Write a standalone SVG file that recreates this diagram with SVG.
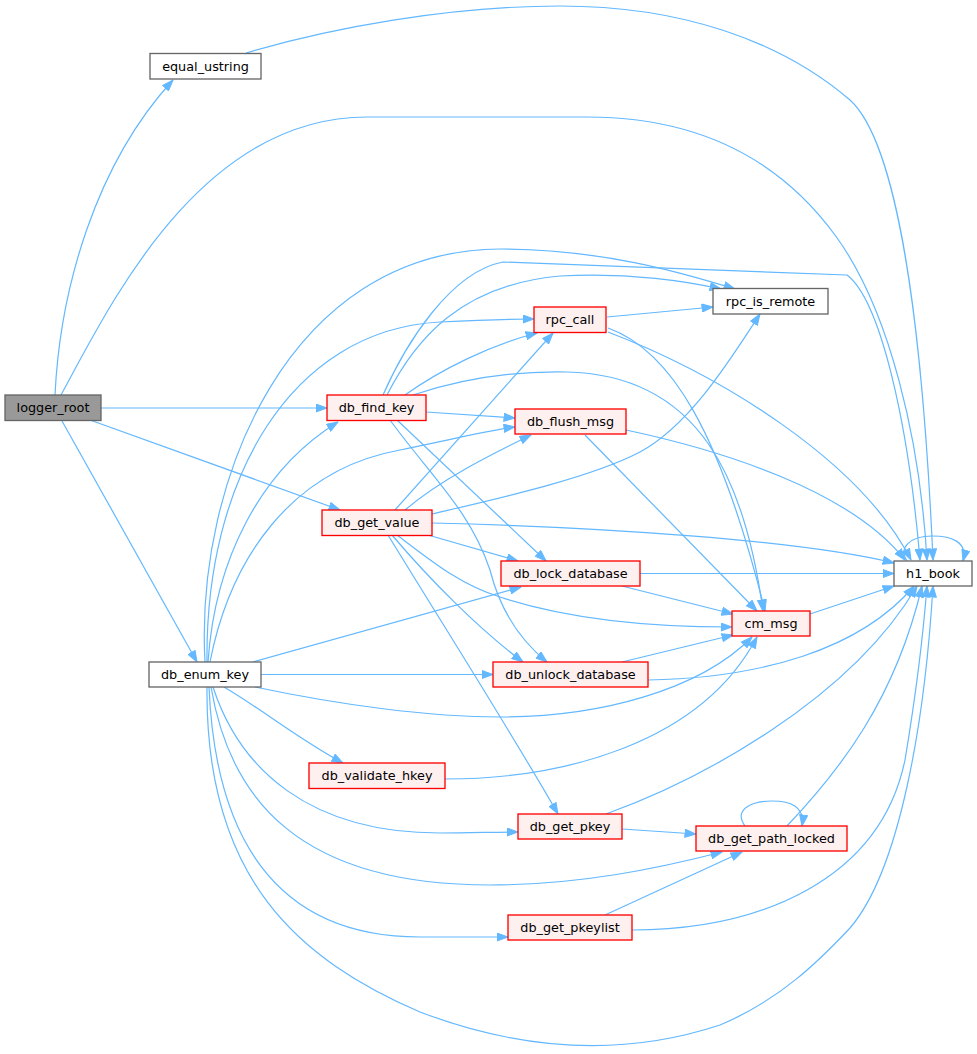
<svg xmlns="http://www.w3.org/2000/svg" width="977" height="1054" viewBox="0 0 977 1054">
<style>
.e{fill:none;stroke:#63b8ff;stroke-width:1.2;marker-end:url(#ah)}
.n rect{stroke-width:1.33}
.r rect{fill:#fff0f0;stroke:#ff0000}
.w rect{fill:#ffffff;stroke:#666666}
.g rect{fill:#999999;stroke:#666666}
text{font-family:"DejaVu Sans","Liberation Sans",sans-serif;font-size:12.8px;fill:#000;text-anchor:middle}
</style>
<defs>
<marker id="ah" markerUnits="userSpaceOnUse" markerWidth="12" markerHeight="9" viewBox="0 0 12 9" refX="11.5" refY="4.5" orient="auto">
<path d="M0.5,0.5 L11.5,4.5 L0.5,8.5 z" fill="#63b8ff" stroke="#63b8ff" stroke-width="1"/>
</marker>
</defs>
<rect width="977" height="1054" fill="#ffffff"/>
<g id="connectors">
<path class="e" d="M55,395 C60,290 95,165 173,80"/>
<path class="e" d="M61,395 C110,305 200,117 367,117 L587,117 C700,117 780,160 835,235 C890,310 920,440 927,560"/>
<path class="e" d="M246,53 C330,28 450,6 560,6 C680,6 780,40 850,100 C905,150 925,380 933,560"/>
<path class="e" d="M101,408 L327,408"/>
<path class="e" d="M90,420 L340,510"/>
<path class="e" d="M62,421 L197,662"/>
<path class="e" d="M383,395 C405,345 450,272 503,262 L847,275 C880,300 908,420 920,560"/>
<path class="e" d="M387,395 C415,340 460,285 560,276 C630,272 690,282 721,289"/>
<path class="e" d="M397,420 L546,561"/>
<path class="e" d="M390,420 C430,475 470,510 490,570 C500,610 520,640 547,662"/>
<path class="e" d="M405,395 C440,370 490,345 537,333"/>
<path class="e" d="M413,395 C470,376 520,371 567,372 C700,375 745,480 763,611"/>
<path class="e" d="M426,412 L515,418"/>
<path class="e" d="M205,662 C195,480 290,250 500,249 C600,249 680,272 735,289"/>
<path class="e" d="M207,662 C205,480 290,330 440,322 C480,320 510,319 534,319"/>
<path class="e" d="M208,662 C215,560 260,470 338,422"/>
<path class="e" d="M210,662 C230,560 290,470 400,450 C450,440 490,430 515,427"/>
<path class="e" d="M253,662 L521,587"/>
<path class="e" d="M261,674.5 L493,674.5"/>
<path class="e" d="M255,687 C340,705 430,717 500,717 C600,717 700,690 752,637"/>
<path class="e" d="M224,687 C260,708 300,740 343,763"/>
<path class="e" d="M213,687 C240,770 310,833 440,833 C470,833 495,832 518,832"/>
<path class="e" d="M211,687 C230,800 300,885 490,885 C580,885 660,868 722,852"/>
<path class="e" d="M209,687 C215,830 270,937 420,937 L508,937"/>
<path class="e" d="M207,687 C205,880 300,960 420,1012 C520,1050 620,1058 720,1025 C780,1000 820,960 850,928 C900,870 925,720 933,586"/>
<path class="e" d="M395,510 L553,333"/>
<path class="e" d="M405,510 C440,480 490,455 531,435"/>
<path class="e" d="M432,514 C500,498 590,478 640,452 C690,425 730,360 760,314"/>
<path class="e" d="M432,523 C600,527 800,540 894,563"/>
<path class="e" d="M428,535 L518,561"/>
<path class="e" d="M397,535 C430,560 460,585 500,597 C570,620 650,627 732,627"/>
<path class="e" d="M392,535 C430,580 480,630 523,662"/>
<path class="e" d="M388,535 C440,620 510,730 558,814"/>
<path class="e" d="M607,317 L713,307"/>
<path class="e" d="M608,328 C670,350 720,430 765,611"/>
<path class="e" d="M608,332 C720,375 860,460 911,560"/>
<path class="e" d="M626,430 C720,450 850,490 905,560"/>
<path class="e" d="M585,435 L757,611"/>
<path class="e" d="M640,573.5 L894,573.5"/>
<path class="e" d="M622,586 L733,614"/>
<path class="e" d="M622,662 L733,635"/>
<path class="e" d="M648,680 C760,678 860,650 914,586"/>
<path class="e" d="M810,614 L894,586"/>
<path class="e" d="M445,779 C560,779 700,745 757,637"/>
<path class="e" d="M606,814 C700,780 850,700 917,586"/>
<path class="e" d="M622,829 L696,834"/>
<path class="e" d="M745,826 C732,808 755,801 772,801 C790,801 805,806 802,826"/>
<path class="e" d="M787,826 C840,770 895,700 922,586"/>
<path class="e" d="M605,915 L742,852"/>
<path class="e" d="M632,930 C760,930 880,880 905,760 C915,700 922,650 927,586"/>
<path class="e" d="M907,561 C898,548 910,536 932,536 C952,536 968,542 963,561"/>
</g>
<g id="node_logger_root" class="n g"><rect x="5" y="395" width="96" height="25.5"/><text x="53" y="412">logger_root</text></g>
<g id="node_equal_ustring" class="n w"><rect x="150" y="53.5" width="111" height="25.5"/><text x="205.5" y="71">equal_ustring</text></g>
<g id="node_db_find_key" class="n r"><rect x="327" y="395" width="99" height="25.5"/><text x="376.5" y="412">db_find_key</text></g>
<g id="node_db_get_value" class="n r"><rect x="322" y="510" width="110" height="25.5"/><text x="377" y="527">db_get_value</text></g>
<g id="node_db_enum_key" class="n w"><rect x="149" y="662" width="112" height="25"/><text x="205" y="679">db_enum_key</text></g>
<g id="node_rpc_call" class="n r"><rect x="534" y="307" width="72" height="25.5"/><text x="570" y="324">rpc_call</text></g>
<g id="node_rpc_is_remote" class="n w"><rect x="713" y="288.5" width="115" height="25.5"/><text x="770.5" y="305.5">rpc_is_remote</text></g>
<g id="node_db_flush_msg" class="n r"><rect x="515" y="409" width="111" height="25"/><text x="570.5" y="426">db_flush_msg</text></g>
<g id="node_db_lock_database" class="n r"><rect x="501" y="561" width="139" height="25"/><text x="570.5" y="578">db_lock_database</text></g>
<g id="node_h1_book" class="n w"><rect x="894" y="561" width="78" height="25"/><text x="933" y="578">h1_book</text></g>
<g id="node_cm_msg" class="n r"><rect x="732" y="611" width="78" height="25"/><text x="771" y="628">cm_msg</text></g>
<g id="node_db_unlock_database" class="n r"><rect x="493" y="662" width="155" height="25"/><text x="570.5" y="679">db_unlock_database</text></g>
<g id="node_db_validate_hkey" class="n r"><rect x="309" y="763" width="136" height="25.5"/><text x="377" y="780">db_validate_hkey</text></g>
<g id="node_db_get_pkey" class="n r"><rect x="518" y="814" width="104" height="25"/><text x="570" y="831">db_get_pkey</text></g>
<g id="node_db_get_path_locked" class="n r"><rect x="696" y="826" width="151" height="25"/><text x="771.5" y="843">db_get_path_locked</text></g>
<g id="node_db_get_pkeylist" class="n r"><rect x="508" y="915" width="124" height="25"/><text x="570" y="932">db_get_pkeylist</text></g>
</svg>
